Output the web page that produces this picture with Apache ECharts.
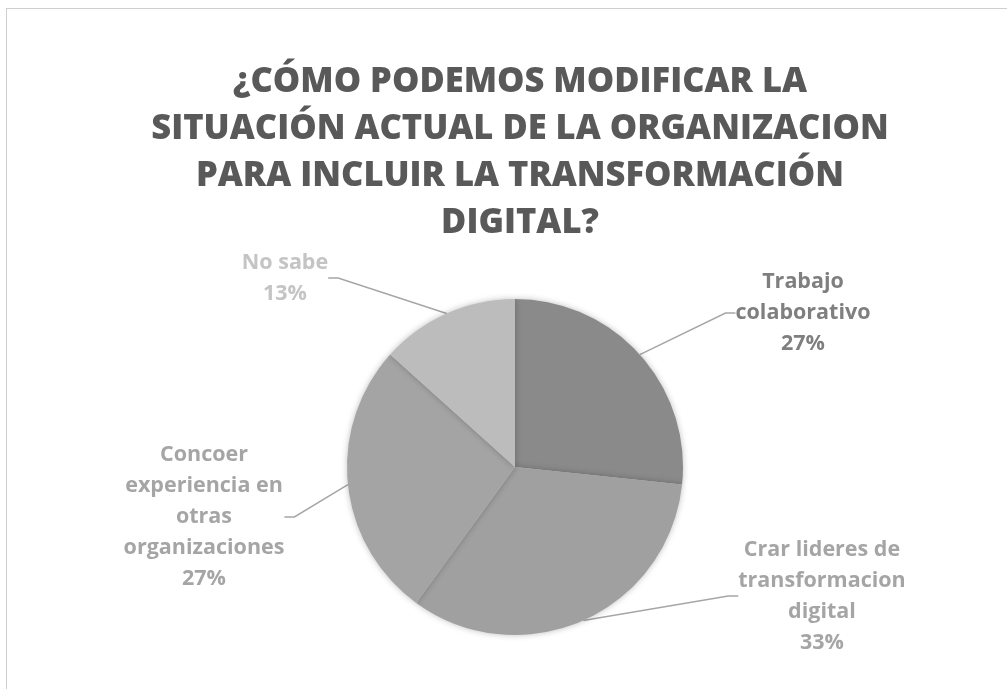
<!DOCTYPE html>
<html>
<head>
<meta charset="utf-8">
<script src="https://cdn.jsdelivr.net/npm/echarts@6/dist/echarts.min.js"></script>
<style>
  html, body { margin: 0; padding: 0; background: #fff; }
  #frame { position: absolute; left: 6px; top: 8px; width: 1100px; height: 800px;
           border-top: 1.5px solid #cfcfcf; border-left: 1.5px solid #cfcfcf; }
  #main { position: absolute; left: 0; top: 0; width: 1007px; height: 689px; }
</style>
</head>
<body>
<div id="frame"></div>
<div id="main"></div>
<script>
// datos del gráfico
const categorias = ['Trabajo\ncolaborativo', 'Crar lideres de\ntransformacion\ndigital', 'Concoer\nexperiencia en\notras\norganizaciones', 'No sabe']
const valores = [4, 5, 4, 2]
const colores = ['#8a8a8a', '#a0a0a0', '#a4a4a4', '#bcbcbc']
const coloresEtiqueta = ['#7f7f7f', '#a5a5a5', '#a5a5a5', '#c4c4c4']

// posiciones de las etiquetas (centro del bloque de texto)
const posEtiquetas = [[803, 313], [822, 596], [204, 517], [285, 278]]

var myChart = echarts.init(document.getElementById('main'))

var option = {
    title: {
        text: '¿CÓMO PODEMOS MODIFICAR LA\nSITUACIÓN ACTUAL DE LA ORGANIZACION\nPARA INCLUIR LA TRANSFORMACIÓN\nDIGITAL?',
        left: 515,
        top: 54,
        textAlign: 'center',
        textStyle: {
            fontFamily: 'Open Sans',
            fontWeight: 800,
            fontSize: 34.5,
            lineHeight: 47,
            color: '#595959'
        }
    },
    series: [{
        type: 'pie',
        center: [515, 467],
        radius: 168,
        startAngle: 90,
        clockwise: true,
        percentPrecision: 0,
        data: categorias.map(function (c, i) {
            return {
                name: c,
                value: valores[i],
                itemStyle: { color: colores[i] },
                label: { color: coloresEtiqueta[i] }
            }
        }),
        itemStyle: {
            shadowBlur: 6,
            shadowColor: 'rgba(0,0,0,0.25)'
        },
        label: {
            show: true,
            formatter: '{b}\n{d}%',
            fontFamily: 'Open Sans',
            fontWeight: 'bold',
            fontSize: 21.5,
            lineHeight: 31,
            align: 'center'
        },
        labelLine: {
            show: true,
            length: 20,
            length2: 10,
            lineStyle: { color: '#a6a6a6', width: 1.5 }
        },
        labelLayout: function (params) {
            var p = posEtiquetas[params.dataIndex]
            return {
                x: p[0],
                y: p[1],
                align: 'center',
                verticalAlign: 'middle'
            }
        },
        emphasis: { disabled: true },
        animation: false
    }]
}
myChart.setOption(option)
</script>
</body>
</html>
